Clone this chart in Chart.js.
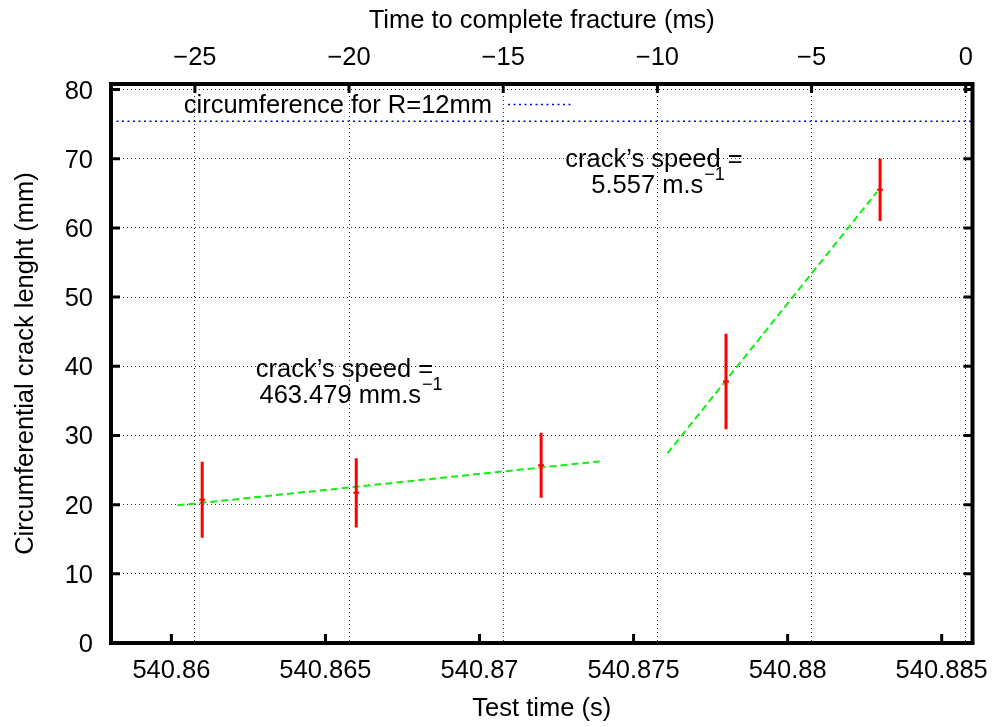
<!DOCTYPE html>
<html>
<head>
<meta charset="utf-8">
<script src="https://cdn.jsdelivr.net/npm/chart.js@4.4.1/dist/chart.umd.min.js"></script>
<style>
html,body{margin:0;padding:0;background:#fff;}
#wrap{width:997px;height:727px;}
</style>
</head>
<body>
<div id="wrap"><canvas id="c" width="997" height="727"></canvas></div>
<script>
// ---- data ----
const testTime    = [540.861, 540.866, 540.872, 540.878, 540.883];   // s
const crackLength = [20.7, 21.7, 25.7, 37.8, 65.5];                  // mm
const crackError  = [5.5, 5.0, 4.7, 6.9, 4.5];                       // mm
const fit1Time    = [540.8602, 540.8739];
const fit1Length  = [19.9, 26.25];
const fit2Time    = [540.8761, 540.8829];
const fit2Length  = [27.4, 65.2];
const circumference = 75.4;                                          // 2*pi*12 mm
const xRange  = [540.85804, 540.88600];
const x2Range = [-27.72, 0.22];
const yRange  = [0, 80.8];
const xTicks  = [540.86, 540.865, 540.87, 540.875, 540.88, 540.885];
const xTickLabels  = ['540.86', '540.865', '540.87', '540.875', '540.88', '540.885'];
const x2Ticks = [-25, -20, -15, -10, -5, 0];
const x2TickLabels = ['\u221225', '\u221220', '\u221215', '\u221210', '\u22125', '0'];
const yTicks  = [0, 10, 20, 30, 40, 50, 60, 70, 80];
const yTickLabels  = ['0', '10', '20', '30', '40', '50', '60', '70', '80'];

const FAMILY = "'Liberation Sans', Arial, Helvetica, sans-serif";
const FS = 25.5;
const F = {family: FAMILY, size: FS, lineHeight: 1.2};
const GRID_COLOR = 'rgba(0,0,0,0.8)';

const datasets = [];
// error bars
testTime.forEach((t, i) => {
  datasets.push({
    data: [{x: t, y: crackLength[i] - crackError[i]}, {x: t, y: crackLength[i] + crackError[i]}],
    borderColor: '#ff0000', borderWidth: 3, pointRadius: 0, showLine: true, xAxisID: 'x', yAxisID: 'y'
  });
});
// points
datasets.push({
  data: testTime.map((t, i) => ({x: t, y: crackLength[i]})),
  showLine: false, pointStyle: 'cross', pointRadius: 3, borderWidth: 2,
  borderColor: '#ff0000', backgroundColor: '#ff0000', xAxisID: 'x', yAxisID: 'y'
});
// fits
[[fit1Time, fit1Length], [fit2Time, fit2Length]].forEach(([tx, ly]) => {
  datasets.push({
    data: tx.map((t, i) => ({x: t, y: ly[i]})),
    showLine: true, borderColor: '#11ee11', borderWidth: 2, borderDash: [7, 4],
    pointRadius: 0, xAxisID: 'x', yAxisID: 'y'
  });
});
// circumference line
datasets.push({
  data: xRange.map(t => ({x: t, y: circumference})),
  showLine: true, borderColor: '#0000ff', borderWidth: 1.5, borderDash: [2, 3.5],
  pointRadius: 0, xAxisID: 'x', yAxisID: 'y'
});

function drawSup(ctx, cx, baseline, main, sup) {
  ctx.font = `${FS}px ${FAMILY}`;
  const w1 = ctx.measureText(main).width;
  ctx.font = `18px ${FAMILY}`;
  const w2 = ctx.measureText(sup).width;
  const x0 = cx - (w1 + w2 + 1) / 2;
  ctx.textAlign = 'left';
  ctx.font = `${FS}px ${FAMILY}`;
  ctx.fillText(main, x0, baseline);
  ctx.font = `18px ${FAMILY}`;
  ctx.fillText(sup, x0 + w1 + 1, baseline - 13);
}

const framePlugin = {
  id: 'frame',
  afterDraw(chart) {
    const {ctx, chartArea: a, scales} = chart;
    ctx.save();
    // inward tick marks
    ctx.strokeStyle = '#000';
    ctx.lineWidth = 3;
    ctx.beginPath();
    xTicks.forEach(v => { const p = scales.x.getPixelForValue(v); ctx.moveTo(p, a.bottom); ctx.lineTo(p, a.bottom - 9); });
    x2Ticks.forEach(v => { const p = scales.x2.getPixelForValue(v); ctx.moveTo(p, a.top); ctx.lineTo(p, a.top + 9); });
    yTicks.forEach(v => {
      const p = scales.y.getPixelForValue(v);
      ctx.moveTo(a.left, p); ctx.lineTo(a.left + 9, p);
      ctx.moveTo(a.right, p); ctx.lineTo(a.right - 9, p);
    });
    ctx.stroke();
    // frame
    ctx.lineWidth = 4;
    ctx.strokeRect(a.left, a.top, a.right - a.left, a.bottom - a.top);

    // key
    ctx.fillStyle = '#000';
    ctx.font = `${FS}px ${FAMILY}`;
    ctx.textAlign = 'right';
    ctx.textBaseline = 'alphabetic';
    ctx.fillText('circumference for R=12mm', a.left + 381, a.top + 29);
    ctx.strokeStyle = '#0000ff';
    ctx.lineWidth = 1.5;
    ctx.setLineDash([2, 3.5]);
    ctx.beginPath();
    ctx.moveTo(a.left + 397, a.top + 20.5);
    ctx.lineTo(a.left + 462, a.top + 20.5);
    ctx.stroke();
    ctx.setLineDash([]);

    // annotations
    ctx.fillStyle = '#000';
    ctx.textAlign = 'center';
    ctx.font = `${FS}px ${FAMILY}`;
    ctx.fillText('crack\u2019s speed =', a.left + 233.5, a.top + 292.7);
    drawSup(ctx, a.left + 240, a.top + 319.3, '463.479 mm.s', '\u22121');
    ctx.textAlign = 'center';
    ctx.font = `${FS}px ${FAMILY}`;
    ctx.fillText('crack\u2019s speed =', a.left + 543, a.top + 82.7);
    drawSup(ctx, a.left + 547, a.top + 109.3, '5.557 m.s', '\u22121');
    ctx.restore();
  }
};

new Chart(document.getElementById('c'), {
  type: 'scatter',
  data: {datasets},
  options: {
    responsive: false,
    devicePixelRatio: 1,
    animation: false,
    layout: {padding: {left: 0, top: 0, bottom: 0, right: 24.5}},
    plugins: {legend: {display: false}, tooltip: {enabled: false}},
    scales: {
      x: {
        type: 'linear', position: 'bottom', min: xRange[0], max: xRange[1],
        afterBuildTicks: s => { s.ticks = xTicks.map(v => ({value: v})); },
        afterFit: s => { s.height = 84; s.paddingLeft = 0; s.paddingRight = 0; },
        ticks: {font: F, color: '#000', padding: 12.5, maxRotation: 0, autoSkip: false,
                callback: (v, i) => xTickLabels[i]},
        grid: {display: false, drawTicks: false},
        border: {display: false},
        title: {display: true, text: 'Test time (s)', font: F, color: '#000', padding: {top: 0, bottom: 2.5}}
      },
      x2: {
        type: 'linear', axis: 'x', position: 'top', min: x2Range[0], max: x2Range[1],
        afterBuildTicks: s => { s.ticks = x2Ticks.map(v => ({value: v})); },
        afterFit: s => { s.height = 84; s.paddingLeft = 0; s.paddingRight = 0; },
        ticks: {font: F, color: '#000', padding: 11, maxRotation: 0, autoSkip: false,
                callback: (v, i) => x2TickLabels[i]},
        grid: {display: true, drawTicks: false, color: GRID_COLOR, lineWidth: 1},
        border: {display: false, dash: [1, 3]},
        title: {display: true, text: 'Time to complete fracture (ms)', font: F, color: '#000', padding: {top: 5.5, bottom: 0}}
      },
      y: {
        type: 'linear', position: 'left', min: yRange[0], max: yRange[1],
        afterBuildTicks: s => { s.ticks = yTicks.map(v => ({value: v})); },
        afterFit: s => { s.width = 111; },
        ticks: {font: F, color: '#000', padding: 18, autoSkip: false, labelOffset: 2,
                callback: (v, i) => yTickLabels[i]},
        grid: {display: true, drawTicks: false, color: GRID_COLOR, lineWidth: 1},
        border: {display: false, dash: [1, 3]},
        title: {display: true, text: 'Circumferential crack lenght (mm)', font: F, color: '#000', padding: {top: 11, bottom: 0}}
      }
    }
  },
  plugins: [framePlugin]
});
</script>
</body>
</html>
